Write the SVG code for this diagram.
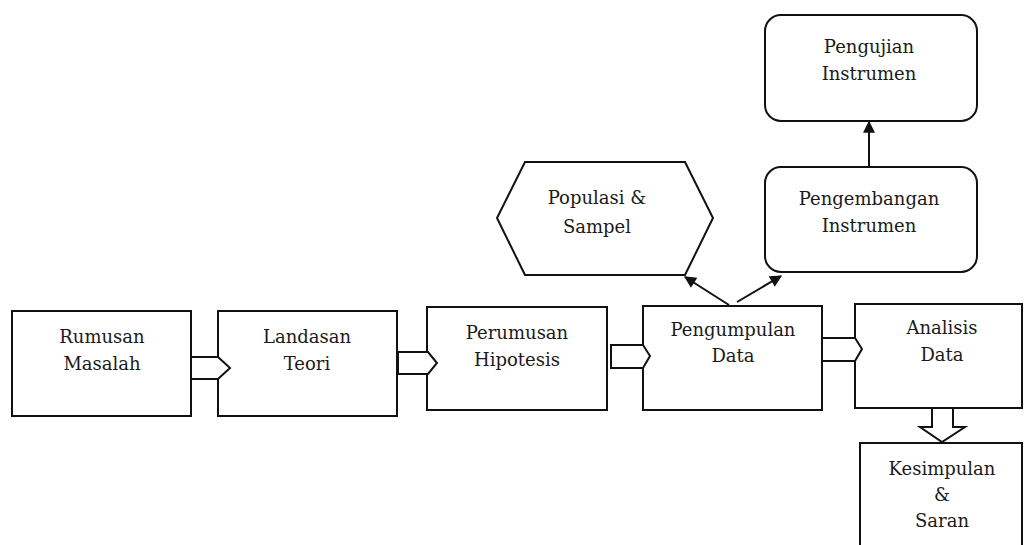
<svg xmlns="http://www.w3.org/2000/svg" width="1025" height="545" viewBox="0 0 1025 545">
<defs>
<style>
.box{fill:#fff;stroke:#111;stroke-width:2}
.blk{fill:#fff;stroke:#111;stroke-width:2;stroke-linejoin:miter}
.ln{stroke:#111;stroke-width:2;fill:none}
text{font-family:"DejaVu Serif","Liberation Serif",serif;font-size:18px;fill:#1a1a1a;text-anchor:middle}
</style>
<marker id="ah" viewBox="0 0 10 10" refX="9" refY="5" markerWidth="7" markerHeight="6" orient="auto" markerUnits="strokeWidth">
<path d="M0,0 L10,5 L0,10 z" fill="#111"/>
</marker>
</defs>
<rect width="1025" height="545" fill="#fff"/>
<g id="rumusan"><rect class="box" x="12" y="311" width="179" height="105"/><text x="102" y="343">Rumusan</text><text x="102" y="370">Masalah</text></g>
<g id="landasan"><rect class="box" x="218" y="311" width="179" height="105"/><text x="307" y="343">Landasan</text><text x="307" y="370">Teori</text></g>
<g id="perumusan"><rect class="box" x="427" y="307" width="180" height="103"/><text x="517" y="339">Perumusan</text><text x="517" y="366">Hipotesis</text></g>
<g id="pengumpulan"><rect class="box" x="643" y="306" width="179" height="104"/><text x="733" y="336">Pengumpulan</text><text x="733" y="362">Data</text></g>
<g id="analisis"><rect class="box" x="855" y="304" width="167" height="104"/><text x="942" y="334">Analisis</text><text x="942" y="361">Data</text></g>
<g id="kesimpulan"><rect class="box" x="860" y="443" width="162" height="110"/><text x="942" y="475">Kesimpulan</text><text x="942" y="501">&amp;</text><text x="942" y="527">Saran</text></g>
<g id="populasi"><polygon class="box" points="525,162 685,162 713,218 685,275 525,275 497,218"/><text x="597" y="204">Populasi &amp;</text><text x="597" y="233">Sampel</text></g>
<g id="pengembangan"><rect class="box" x="765" y="167" width="212" height="105" rx="16"/><text x="869" y="205">Pengembangan</text><text x="869" y="232">Instrumen</text></g>
<g id="pengujian"><rect class="box" x="765" y="15" width="212" height="106" rx="16"/><text x="869" y="53">Pengujian</text><text x="869" y="80">Instrumen</text></g>
<g id="connectors">
<polygon class="blk" points="191,357 218,357 230,368 218,379 191,379"/>
<polygon class="blk" points="398,352 428,352 437,363 428,374 398,374"/>
<polygon class="blk" points="611,345 643,345 650,356 643,368 611,368"/>
<polygon class="blk" points="822,338 855,338 862,349 855,361 822,361"/>
<polygon class="blk" points="932,408 953,408 953,427 965,427 942,442 920,427 932,427"/>
<line class="ln" x1="729" y1="305" x2="685" y2="277" marker-end="url(#ah)"/>
<line class="ln" x1="737" y1="302" x2="781" y2="276" marker-end="url(#ah)"/>
<line class="ln" x1="869" y1="167" x2="869" y2="122" marker-end="url(#ah)"/>
</g>
</svg>
